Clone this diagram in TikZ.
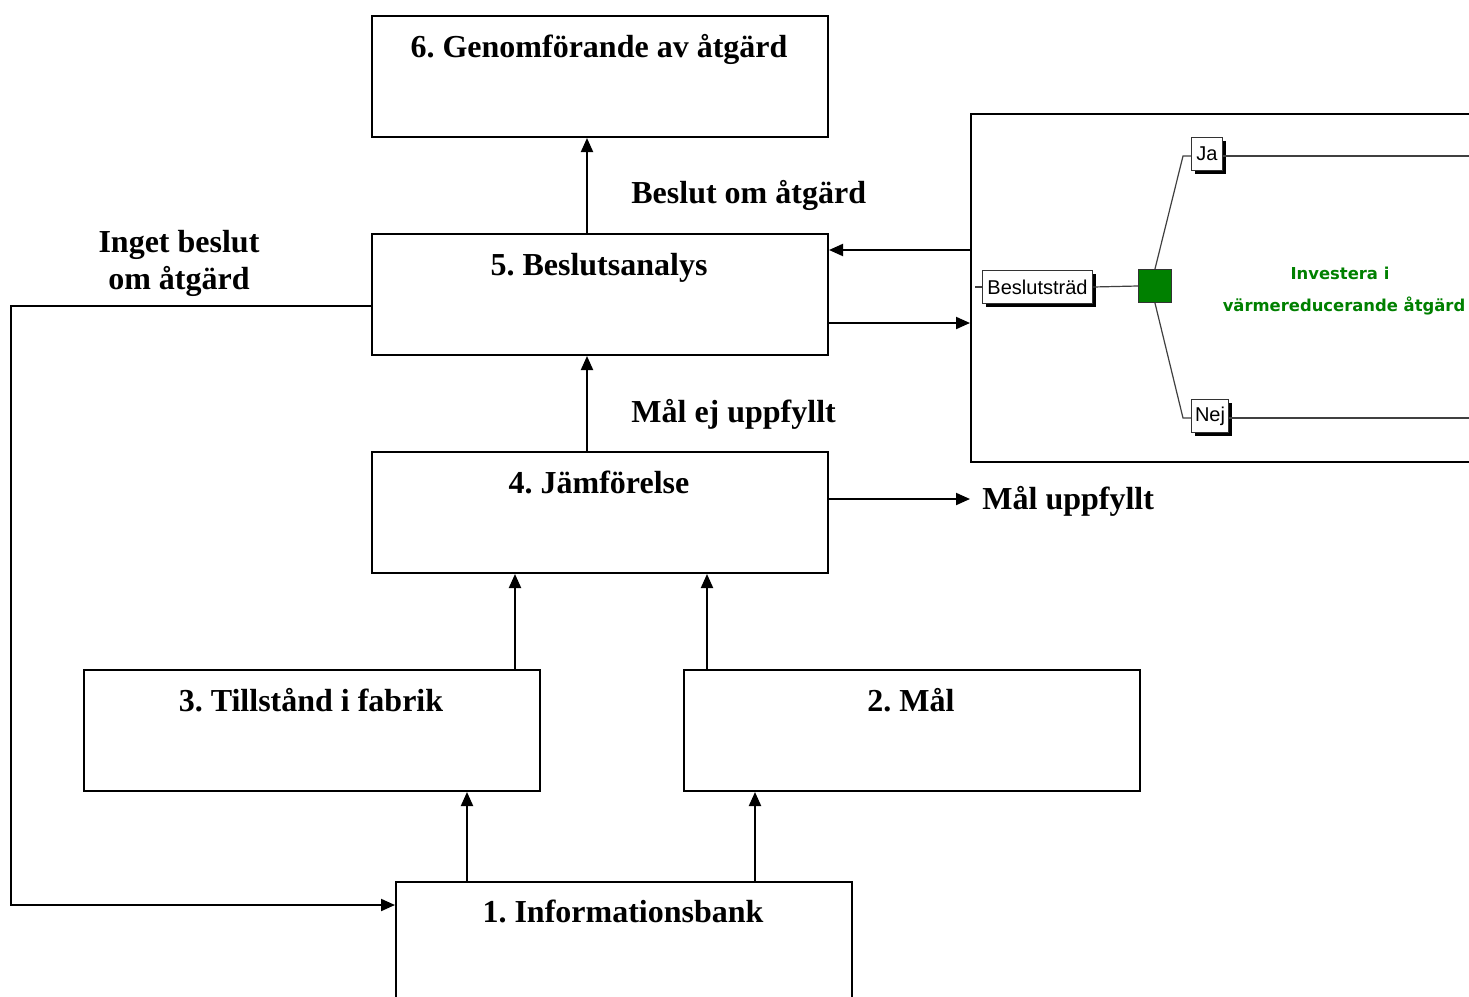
\documentclass[tikz,border=0pt]{standalone}
\usepackage{fontspec}
\setmainfont{Liberation Serif}
\newfontfamily\treefont{Liberation Sans}
\newfontfamily\greenfont{DejaVu Sans}
\usetikzlibrary{arrows.meta,calc,shadows}
\definecolor{treegreen}{RGB}{0,128,0}
\frenchspacing
\tikzset{
  box/.style={draw, line width=1pt, minimum width=228pt, minimum height=60.5pt, inner sep=0pt, anchor=north west},
  boxtext/.style={anchor=base, font=\fontsize{16}{19}\selectfont\bfseries, inner sep=0pt},
  lbl/.style={anchor=base west, font=\fontsize{16}{19}\selectfont\bfseries, inner sep=0pt},
  arr/.style={line width=1pt, -{Triangle[length=7pt,width=6pt]}},
  tbox/.style={draw=black!80, fill=white, line width=0.5pt, inner sep=1pt, minimum height=16.5pt,
    font=\treefont\fontsize{10}{12}\selectfont, anchor=north west,
    drop shadow={shadow xshift=1.5pt, shadow yshift=-1.5pt, fill=black, opacity=1}},
  tline/.style={draw=black!75, line width=0.6pt},
  gtext/.style={text=treegreen, font=\greenfont\bfseries\fontsize{8.2}{10}\selectfont, inner sep=0pt, anchor=base}
}
\begin{document}
\begin{tikzpicture}[x=0.5pt,y=-0.5pt]
\clip (0,0) rectangle (1469,997);
\fill[white] (0,0) rectangle (1469,997);
% boxes
\node[box] (b6) at (371,15) {};
\node[box] (b5) at (371,233) {};
\node[box] (b4) at (371,451) {};
\node[box] (b3) at (83,669) {};
\node[box] (b2) at (683,669) {};
\node[box] (b1) at (395,881) {};
\node[boxtext] (t6) at (599,57) {6. Genomförande av åtgärd};
\node[boxtext] (t5) at (599,275) {5. Beslutsanalys};
\node[boxtext] (t4) at (599,493) {4. Jämförelse};
\node[boxtext] (t3) at (311,711) {3. Tillstånd i fabrik};
\node[boxtext] (t2) at (911,711) {2. Mål};
\node[boxtext] (t1) at (623,922) {1. Informationsbank};
% helper coordinates
\coordinate (x587) at (587,0);
\coordinate (x515) at (515,0);
\coordinate (x707) at (707,0);
\coordinate (x467) at (467,0);
\coordinate (x755) at (755,0);
\coordinate (y250) at (0,250);
\coordinate (y323) at (0,323);
\coordinate (y306) at (0,306);
\coordinate (y905) at (0,905);
\coordinate (y499) at (0,499);
\coordinate (cL) at (11,600);
% vertical arrows
\draw[arr] (x587 |- b5.north) -- (x587 |- b6.south);
\draw[arr] (x587 |- b4.north) -- (x587 |- b5.south);
\draw[arr] (x515 |- b3.north) -- (x515 |- b4.south);
\draw[arr] (x707 |- b2.north) -- (x707 |- b4.south);
\draw[arr] (x467 |- b1.north) -- (x467 |- b3.south);
\draw[arr] (x755 |- b1.north) -- (x755 |- b2.south);
% loop back
\draw[arr] (b5.west |- y306) -| (cL) |- (b1.west |- y905);
% edge labels
\node[lbl] (lbeslut) at (631,203) {Beslut om åtgärd};
\node[lbl] (lmalej) at (631,422) {Mål ej uppfyllt};
\node[lbl] (lmal) at (982,509) {Mål uppfyllt};
\node[boxtext] (ling1) at (179,252) {Inget beslut};
\node[boxtext] (ling2) at (179,289) {om åtgärd};
\coordinate (mtip) at (970,499);
\draw[arr] (b4.east |- y499) -- (mtip);
% decision tree panel
\node[draw, line width=1pt, minimum width=280pt, minimum height=174pt, inner sep=0pt, anchor=north west] (tree) at (970,113) {};
\draw[arr] (tree.west |- y250) -- (b5.east |- y250);
\draw[arr] (b5.east |- y323) -- (tree.west |- y323);
% tree contents
\node[tbox, minimum width=55pt] (bt) at (982,270) {Beslutsträd};
\coordinate (btl) at (975,0);
\draw[tline] (btl |- bt.west) -- (bt.west);
\node[draw=black!80, fill=treegreen, line width=0.6pt, minimum size=16.5pt, inner sep=0pt] (sq) at (1155,286) {};
\draw[tline] (bt.east) -- (sq.west);
\node[tbox, minimum width=15.5pt] (ja) at (1191,137) {Ja};
\node[tbox, minimum width=18.5pt] (nej) at (1191,399) {Nej};
\coordinate (jaK) at (1183,156);
\coordinate (nejK) at (1183,418);
\coordinate (jaE) at (1480,156);
\coordinate (nejE) at (1480,418);
\draw[tline] (sq.north) -- (jaK) -- (ja.west |- jaK);
\draw[tline] (sq.south) -- (nejK) -- (nej.west |- nejK);
\draw[tline] (ja.east |- jaE) -- (jaE);
\draw[tline] (nej.east |- nejE) -- (nejE);
\node[gtext] (g1) at (1340,279) {Investera i};
\node[gtext] (g2) at (1344,311) {värmereducerande åtgärd};
\end{tikzpicture}
\end{document}
